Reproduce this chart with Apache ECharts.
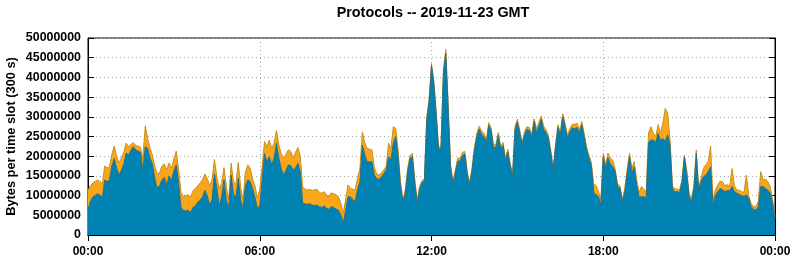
<!DOCTYPE html>
<html>
<head>
<meta charset="utf-8">
<script src="https://cdn.jsdelivr.net/npm/echarts@6/dist/echarts.min.js"></script>
<style>
html,body{margin:0;padding:0;background:#fff;}
#chart{width:795px;height:260px;}
</style>
</head>
<body>
<div id="chart"></div>
<script>
// Time axis: 5-minute slots (300 s) across one day, 289 slot boundaries 00:00 .. 24:00
const slotMinutes = 5;
const tickEvery = 72; // slots per 6 hours
const tickLabels = ['00:00', '06:00', '12:00', '18:00', '00:00'];
const seriesNames = ['blue', 'orange'];

// Bytes per slot, in millions (MB), bottom (blue) series
const blueMB = [
6.5,8.5,9.6,10.1,10.4,10.2,9.4,14.0,13.5,14.0,17.5,19.4,17.0,15.2,16.5,18.0,20.8,20.3,21.5,22.4,
21.6,21.3,21.0,16.5,22.4,22.0,19.5,18.0,14.4,12.0,12.5,14.0,14.6,12.7,15.0,13.8,16.3,17.8,13.1,7.0,
6.2,6.1,6.3,5.7,7.0,7.4,8.3,8.8,9.7,11.3,10.0,7.6,9.0,15.5,12.0,7.4,9.7,14.0,8.9,6.8,
15.2,10.2,9.7,14.4,8.9,6.8,12.5,14.0,13.5,11.8,9.5,6.8,7.3,14.0,20.7,18.6,19.9,17.8,19.5,23.3,
19.5,16.9,15.2,16.5,17.8,17.6,16.5,17.0,18.2,16.0,8.0,7.9,7.8,7.9,7.6,7.5,7.6,7.2,7.0,7.4,
6.8,6.5,7.2,7.0,6.6,6.3,5.1,3.0,6.3,9.7,9.7,9.0,8.5,11.5,13.5,22.8,20.5,18.6,18.6,18.6,
15.2,14.3,14.1,14.8,15.6,16.5,19.9,19.0,23.3,25.0,19.9,12.5,8.5,10.6,16.1,19.4,19.9,13.2,8.0,11.5,
13.3,13.8,29.0,33.8,43.0,38.4,30.3,21.4,22.3,41.2,46.1,32.2,17.2,13.0,15.9,18.7,18.8,20.2,20.5,15.3,
12.8,16.4,21.6,25.0,26.9,25.5,25.0,23.4,27.8,26.5,22.1,22.2,25.3,21.8,22.8,18.8,21.1,17.5,14.8,26.8,
28.7,25.9,22.9,25.5,26.8,26.6,24.8,28.8,26.1,27.6,29.4,26.8,26.0,24.6,20.9,16.4,22.3,27.3,25.3,30.0,
27.6,24.6,26.2,27.2,27.0,27.3,26.0,28.0,25.0,21.7,19.6,17.6,10.8,10.2,9.7,7.6,19.9,17.0,19.6,18.0,
17.3,16.1,12.3,12.0,8.5,10.8,15.5,19.9,15.8,17.3,12.8,9.7,9.7,9.7,9.5,23.5,24.1,24.1,23.5,25.8,
24.0,24.5,23.8,25.4,22.8,11.8,11.0,11.0,10.8,13.3,19.9,15.5,9.8,8.5,11.8,20.7,11.2,13.5,14.8,15.2,
16.1,17.3,7.6,10.0,11.0,11.8,11.5,11.0,11.3,11.2,12.3,11.0,10.6,10.3,10.0,9.8,10.2,9.3,7.2,6.5,
6.3,7.2,12.3,12.3,11.8,11.4,10.6,8.0,4.2
];

// Bytes per slot, in millions (MB), stacked (orange) series
const orangeMB = [
4.8,4.0,3.6,3.5,3.5,3.4,3.6,3.5,3.5,3.3,3.0,3.2,3.0,3.1,3.0,3.0,2.5,2.1,1.5,1.0,
1.2,1.2,1.3,3.0,5.3,2.5,2.5,2.3,2.9,3.5,3.3,3.5,3.4,3.8,3.3,3.1,3.0,3.5,3.4,3.8,
3.5,3.9,3.9,3.9,4.2,4.4,4.2,4.4,4.3,4.2,4.3,4.9,5.0,3.7,2.8,4.4,3.4,3.1,3.4,2.1,
3.0,3.3,3.2,4.0,3.1,2.2,3.5,3.8,3.4,2.4,3.0,2.7,4.2,3.5,3.0,3.8,4.2,4.2,3.8,3.2,
3.3,3.8,4.3,4.0,3.8,3.6,3.0,4.0,4.0,4.0,4.3,3.7,3.6,3.7,3.7,4.0,4.0,3.6,3.6,3.6,
3.4,3.2,3.5,3.5,3.6,3.4,2.9,2.5,2.6,3.0,2.1,2.6,2.9,3.0,3.4,3.4,3.0,3.4,3.2,3.0,
2.1,1.2,1.1,1.0,1.0,0.8,3.4,3.0,4.2,2.0,1.7,1.0,0.4,0.8,0.8,0.8,0.8,0.8,0.9,0.8,
0.5,0.4,1.0,0.7,0.5,0.6,0.7,0.6,0.7,0.7,1.0,0.8,0.6,0.6,0.6,0.8,0.7,0.8,0.7,0.7,
0.5,0.6,0.8,0.8,0.7,0.9,0.8,0.8,0.7,0.7,0.7,0.8,0.7,0.7,0.7,0.7,0.7,0.7,0.7,0.7,
0.7,0.7,0.6,0.7,0.7,0.7,0.7,0.7,0.9,0.9,0.8,0.8,0.8,0.7,0.6,0.6,0.7,0.7,0.7,0.8,
0.7,0.7,0.8,0.9,1.1,1.1,0.8,0.8,0.8,0.7,0.7,0.8,2.2,2.3,1.3,1.3,0.8,0.8,1.2,1.5,
1.7,0.6,0.6,0.5,0.4,1.0,1.0,0.8,1.2,1.3,1.2,1.1,2.6,1.9,1.5,2.5,3.4,1.7,1.5,2.2,
1.8,4.0,8.3,5.5,1.3,0.5,0.8,0.6,0.7,0.7,0.4,1.0,0.7,0.8,0.7,0.9,0.8,0.9,2.1,2.6,
2.5,5.3,1.3,1.5,1.7,1.9,2.0,1.5,1.5,1.1,4.6,1.5,0.8,1.1,1.0,1.0,5.0,0.7,0.8,0.7,
1.0,1.3,3.8,1.7,2.4,2.1,1.7,0.9,0.5
];

const MB = 1e6;
const FONT = '"Liberation Sans", Arial, Helvetica, sans-serif';
const pad = n => (n < 10 ? '0' : '') + n;
const slots = blueMB.map((_, i) => {
  const m = i * slotMinutes;
  return pad(Math.floor(m / 60)) + ':' + pad(m % 60);
});
const onTick = idx => idx % tickEvery === 0;

const chart = echarts.init(document.getElementById('chart'), null, {renderer: 'canvas'});
const gridLineStyle = {color: '#a8a8a8', type: [1, 3], width: 1};
const xTick = {show: true, inside: true, length: 6, interval: onTick, lineStyle: {color: '#000', width: 1}};
const yTick = {show: true, inside: true, length: 6, lineStyle: {color: '#000', width: 1}};

chart.setOption({
  animation: false,
  backgroundColor: '#fff',
  title: {
    text: 'Protocols -- 2019-11-23 GMT',
    left: 428, top: 1, textAlign: 'center',
    textStyle: {fontFamily: FONT, fontWeight: 'bold', fontSize: 14.4, color: '#000'}
  },
  grid: {left: 88, top: 38, width: 687, height: 197, containLabel: false, outerBoundsMode: 'none',
    show: true, borderColor: '#000', borderWidth: 1, backgroundColor: 'transparent'},
  xAxis: [{
    type: 'category', data: slots, boundaryGap: false, position: 'bottom',
    axisLine: {show: true, lineStyle: {color: '#000', width: 1}},
    axisTick: xTick,
    splitLine: {show: true, interval: onTick, lineStyle: gridLineStyle},
    axisLabel: {
      interval: onTick, margin: 11, color: '#000', fontFamily: FONT, fontWeight: 'bold', fontSize: 12,
      formatter: (v, idx) => tickLabels[Math.round(idx / tickEvery)]
    }
  }, {
    type: 'category', data: slots, boundaryGap: false, position: 'top',
    axisLine: {show: true, lineStyle: {color: '#000', width: 1}},
    axisTick: xTick, splitLine: {show: false}, axisLabel: {show: false}
  }],
  yAxis: [{
    type: 'value', min: 0, max: 50000000, interval: 5000000, position: 'left',
    name: 'Bytes per time slot (300 s)', nameLocation: 'middle', nameRotate: 90, nameGap: 70,
    nameMoveOverlap: false,
    nameTextStyle: {fontFamily: FONT, fontWeight: 'bold', fontSize: 12.8, color: '#000'},
    axisLine: {show: true, lineStyle: {color: '#000', width: 1}},
    axisTick: yTick,
    splitLine: {show: true, lineStyle: gridLineStyle},
    axisLabel: {margin: 7, color: '#000', fontFamily: FONT, fontWeight: 'bold', fontSize: 12.4,
      formatter: v => String(v)}
  }, {
    type: 'value', min: 0, max: 50000000, interval: 5000000, position: 'right',
    axisLine: {show: true, lineStyle: {color: '#000', width: 1}},
    axisTick: yTick, splitLine: {show: false}, axisLabel: {show: false}
  }],
  series: [{
    name: seriesNames[0], type: 'line', stack: 'total', symbol: 'none', smooth: false,
    data: blueMB.map(v => v * MB),
    lineStyle: {color: '#2d6f80', width: 1},
    areaStyle: {color: '#0083b3', opacity: 1},
    z: 3
  }, {
    name: seriesNames[1], type: 'line', stack: 'total', symbol: 'none', smooth: false,
    data: orangeMB.map(v => v * MB),
    lineStyle: {color: '#c6921e', width: 1},
    areaStyle: {color: '#faa61a', opacity: 1},
    z: 2
  }]
});
</script>
</body>
</html>
